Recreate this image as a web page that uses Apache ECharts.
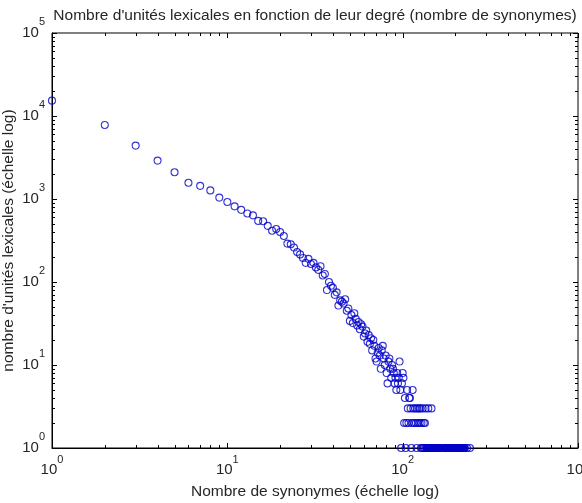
<!DOCTYPE html>
<html>
<head>
<meta charset="utf-8">
<script src="https://cdn.jsdelivr.net/npm/echarts@6/dist/echarts.min.js"></script>
<style>
  html, body { margin: 0; padding: 0; background: #fff; }
  #chart { width: 582px; height: 503px; }
</style>
</head>
<body>
<div id="chart"></div>
<script>
// degrés 1..116 (nuage principal) et nombre d'unités lexicales correspondant
const cloudDegrees = [
  1, 2, 3, 4, 5, 6, 7, 8, 9, 10, 11, 12, 13, 14, 15, 16, 17, 18, 19, 20,
  21, 22, 23, 24, 25, 26, 27, 28, 29, 30, 31, 32, 33, 34, 35, 36, 37, 38, 39, 40,
  41, 42, 43, 44, 45, 46, 47, 48, 49, 50, 51, 52, 53, 54, 55, 56, 57, 58, 59, 60,
  61, 62, 63, 64, 65, 66, 67, 68, 69, 70, 71, 72, 73, 74, 75, 76, 77, 78, 79, 80,
  81, 82, 83, 84, 85, 86, 87, 88, 89, 90, 91, 92, 93, 94, 95, 96, 97, 99, 100, 101,
  103, 106, 109, 110, 114
]
const cloudCounts = [
  15300, 7800, 4400, 2900, 2100, 1570, 1440, 1270, 1040, 920, 815, 740, 670, 635, 545, 540, 475, 415, 435, 400,
  358, 290, 285, 260, 230, 215, 195, 170, 190, 165, 170, 150, 140, 155, 120, 125, 80, 100, 90, 85,
  70, 75, 52, 60, 58, 55, 62, 45, 48, 34, 40, 32, 42, 36, 30, 33, 27, 31, 29, 22,
  24, 26, 19, 23, 18, 21, 15, 20, 17, 12, 11, 14, 16, 13, 9, 15, 17, 12, 10, 13,
  8, 6, 11, 12, 9, 7, 10, 9, 8, 6, 7, 5, 8, 6, 7, 11, 5, 6, 8, 7,
  4, 5, 4, 4, 5
]
// degrés ayant exactement 3, 2 ou 1 unité lexicale
const degreesCount3 = [107, 111, 115, 118, 121, 124, 126, 130, 135, 140, 146]
const degreesCount2 = [102, 105, 108, 113, 116, 119, 122, 125, 128, 132, 134]
const degreesCount1 = [
  98, 104, 112, 120, 127, 129, 131, 133, 136, 137, 138, 139, 141, 142, 143, 144, 145,
  147, 148, 149, 150, 151, 152, 153, 154, 155, 156, 157, 158, 159, 160, 161, 162, 163,
  168,
  174, 175, 176, 177, 178, 180, 181, 182, 183, 184, 185, 186, 187, 188, 189, 190, 191,
  192, 193, 194, 195, 196, 198, 199, 200, 201, 202, 203, 204, 205, 206, 207, 208, 209,
  210, 211, 212, 214, 215, 216, 217, 218, 219, 220, 221, 222, 223, 224, 225, 226,
  233, 242
]

// graduations (échelle log)
const xMajorTicks = [1, 10, 100, 1000]
const yMajorTicks = [1, 10, 100, 1000, 10000, 100000]
const xMinorTicks = [2, 3, 4, 5, 6, 7, 8, 9, 20, 30, 40, 50, 60, 70, 80, 90, 200, 300, 400, 500, 600, 700, 800, 900]
const yMinorTicks = [
  2, 3, 4, 5, 6, 7, 8, 9, 20, 30, 40, 50, 60, 70, 80, 90,
  200, 300, 400, 500, 600, 700, 800, 900, 2000, 3000, 4000, 5000, 6000, 7000, 8000, 9000,
  20000, 30000, 40000, 50000, 60000, 70000, 80000, 90000
]

const TEXT = '#262626'
const FONT = '"Liberation Sans", Arial, sans-serif'

const points = cloudDegrees.map((d, i) => [d, cloudCounts[i]])
  .concat(degreesCount3.map(d => [d, 3]))
  .concat(degreesCount2.map(d => [d, 2]))
  .concat(degreesCount1.map(d => [d, 1]))

// tick data: [x, y, axe (0 = x, 1 = y), longueur]
const tickData = []
xMajorTicks.forEach(v => tickData.push([v, 1, 0, 5]))
xMinorTicks.forEach(v => tickData.push([v, 1, 0, 3]))
yMajorTicks.forEach(v => tickData.push([1, v, 1, 5]))
yMinorTicks.forEach(v => tickData.push([1, v, 1, 3]))

function expLabel(value) {
  const e = Math.round(Math.log10(value))
  return '{b|10}{s|' + e + '}'
}

function renderTick(params, api) {
  const isY = api.value(2) === 1
  const len = api.value(3)
  const style = { stroke: '#000', lineWidth: 1 }
  if (!isY) {
    const v = api.value(0)
    const pb = api.coord([v, 1])
    const pt = api.coord([v, 100000])
    const x = Math.round(pb[0]) + 0.5
    return {
      type: 'group',
      children: [
        { type: 'line', shape: { x1: x, y1: pb[1], x2: x, y2: pb[1] - len }, style },
        { type: 'line', shape: { x1: x, y1: pt[1], x2: x, y2: pt[1] + len }, style },
      ],
    }
  }
  const v = api.value(1)
  const pl = api.coord([1, v])
  const pr = api.coord([1000, v])
  const y = Math.round(pl[1]) + 0.5
  return {
    type: 'group',
    children: [
      { type: 'line', shape: { x1: pl[0], y1: y, x2: pl[0] + len, y2: y }, style },
      { type: 'line', shape: { x1: pr[0], y1: y, x2: pr[0] - len, y2: y }, style },
    ],
  }
}

const chart = echarts.init(document.getElementById('chart'))
chart.setOption({
  animation: false,
  backgroundColor: '#fff',
  textStyle: { fontFamily: FONT },
  title: {
    text: "Nombre d'unités lexicales en fonction de leur degré (nombre de synonymes)",
    left: 315,
    top: 8,
    textAlign: 'center',
    padding: 0,
    textStyle: { fontSize: 15.5, fontWeight: 'normal', color: TEXT, fontFamily: FONT },
  },
  grid: {
    left: 52, right: 4, top: 33, bottom: 55,
    containLabel: false,
    outerBoundsMode: 'none',
    show: true, borderColor: '#000', borderWidth: 1,
  },
  xAxis: {
    type: 'log', logBase: 10, min: 1, max: 1000,
    name: 'Nombre de synonymes (échelle log)',
    nameLocation: 'middle',
    nameGap: 36,
    nameMoveOverlap: false,
    nameTextStyle: { fontSize: 15.5, color: TEXT, fontFamily: FONT },
    axisLine: { lineStyle: { color: '#000', width: 1 } },
    axisTick: { show: false },
    splitLine: { show: false },
    axisLabel: {
      margin: 14,
      formatter: expLabel,
      rich: {
        b: { fontSize: 15, lineHeight: 15, color: TEXT, fontFamily: FONT },
        s: { fontSize: 11, lineHeight: 11, color: TEXT, fontFamily: FONT, padding: [0, 0, 20, 0] },
      },
    },
  },
  yAxis: {
    type: 'log', logBase: 10, min: 1, max: 100000,
    name: "nombre d'unités lexicales (échelle log)",
    nameLocation: 'middle',
    nameGap: 35,
    nameRotate: 90,
    nameMoveOverlap: false,
    nameTextStyle: { fontSize: 15.5, color: TEXT, fontFamily: FONT },
    axisLine: { lineStyle: { color: '#000', width: 1 } },
    axisTick: { show: false },
    splitLine: { show: false },
    axisLabel: {
      margin: 7,
      formatter: expLabel,
      rich: {
        b: { fontSize: 15, lineHeight: 15, color: TEXT, fontFamily: FONT },
        s: { fontSize: 11, lineHeight: 11, color: TEXT, fontFamily: FONT, padding: [0, 0, 22, 0] },
      },
    },
  },
  series: [
    {
      type: 'custom',
      silent: true,
      clip: false,
      renderItem: renderTick,
      data: tickData,
      z: 3,
    },
    {
      type: 'scatter',
      data: points,
      symbol: 'circle',
      symbolSize: 7,
      clip: false,
      itemStyle: { color: 'rgba(0,0,0,0)', borderColor: '#0000c8', borderWidth: 1.1 },
      z: 4,
    },
  ],
})
</script>
</body>
</html>
